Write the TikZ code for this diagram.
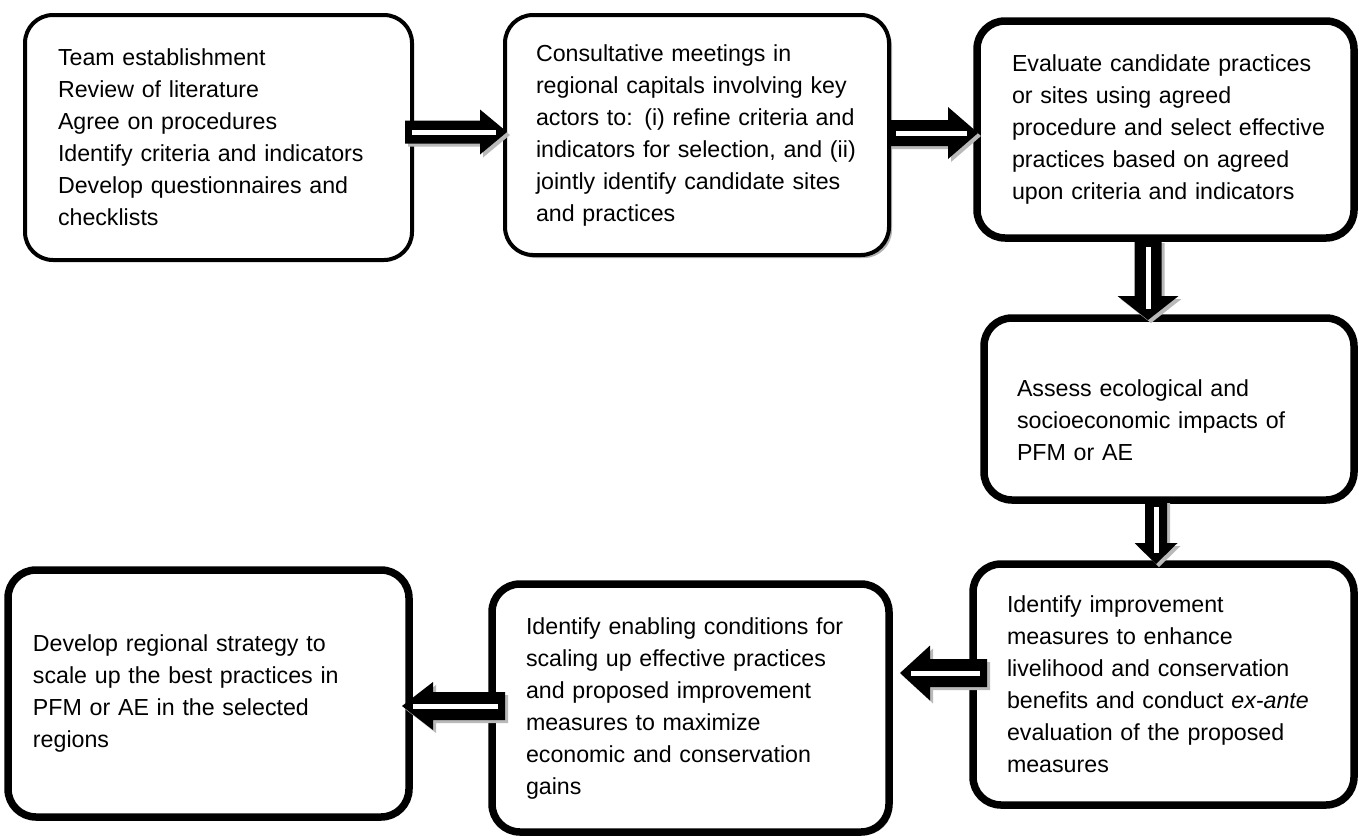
\documentclass[tikz,border=0pt]{standalone}
\usepackage{fontspec}
\setmainfont{Liberation Sans}
\usetikzlibrary{calc,shadows}

% block arrow: #1 tail, #2 tip, #3 shaft half width, #4 head half width, #5 head length
\newcommand{\blockarrow}[5]{%
  \coordinate (bA) at (#1);
  \coordinate (bB) at (#2);
  \coordinate (bH) at ($(bB)!#5!(bA)$);
  \coordinate (bL1) at ($(bA)!#3!90:(bB)$);
  \coordinate (bR1) at ($(bA)!#3!-90:(bB)$);
  \coordinate (bL2) at ($(bH)!#3!-90:(bA)$);
  \coordinate (bR2) at ($(bH)!#3!90:(bA)$);
  \coordinate (bL3) at ($(bH)!#4!-90:(bA)$);
  \coordinate (bR3) at ($(bH)!#4!90:(bA)$);
  \coordinate (bA2) at ($(bA)!7pt!(bB)$);
  \coordinate (bB2) at ($(bB)!11pt!(bA)$);
  \coordinate (bW1) at ($(bA2)!2.5pt!90:(bB2)$);
  \coordinate (bW2) at ($(bA2)!2.5pt!-90:(bB2)$);
  \coordinate (bW3) at ($(bB2)!2.5pt!90:(bA2)$);
  \coordinate (bW4) at ($(bB2)!2.5pt!-90:(bA2)$);
  \fill[arrshadow] (bL1) -- (bL2) -- (bL3) -- (bB) -- (bR3) -- (bR2) -- (bR1) -- cycle;
  \fill[arrbody] (bL1) -- (bL2) -- (bL3) -- (bB) -- (bR3) -- (bR2) -- (bR1) -- cycle;
  \fill[arrinner] (bW1) -- (bW4) -- (bW3) -- (bW2) -- cycle;
}

\tikzset{
  box/.style={draw=black, fill=white, rounded corners=28pt, outer sep=0pt,
    inner ysep=0pt, inner xsep=8pt, align=left,
    font=\fontsize{23.2pt}{32pt}\selectfont},
  thinbox/.style={box, line width=4pt},
  thickbox/.style={box, line width=7.5pt},
  shadowed/.style={drop shadow={shadow xshift=3pt, shadow yshift=-3pt, fill=gray!60, opacity=1}},
  arrshadow/.style={fill=gray!55, transform canvas={shift={(3pt,-3pt)}}},
  arrbody/.style={fill=black},
  arrinner/.style={fill=white},
}

\begin{document}
\begin{tikzpicture}[x=1pt, y=-1pt]
\useasboundingbox (0,0) rectangle (1359,839);
\fill[white] (0,0) rectangle (1359,839);

\node[thinbox, minimum width=387pt, minimum height=245pt, text width=371pt] (b1) at (218.5,137.5)
  {\setlength\leftskip{25pt}Team establishment\\Review of literature\\Agree on procedures\\Identify criteria and indicators\\Develop questionnaires and\\checklists\par};

\node[thinbox, shadowed, minimum width=384pt, minimum height=240pt, text width=368pt] (b2) at (697,135)
  {\setlength\leftskip{23pt}Consultative meetings in\\regional capitals involving key\\actors to: (i) refine criteria and\\indicators for selection, and (ii)\\jointly identify candidate sites\\and practices\par};

\node[thickbox, minimum width=377pt, minimum height=217pt, text width=361pt] (b3) at (1165.5,129.5)
  {\setlength\leftskip{27pt}Evaluate candidate practices\\or sites using agreed\\procedure and select effective\\practices based on agreed\\upon criteria and indicators\par};

\node[thickbox, minimum width=370pt, minimum height=182pt, text width=354pt] (b4) at (1169,409)
  {\setlength\leftskip{25pt}\rule{0pt}{39pt}Assess ecological and\\socioeconomic impacts of\\PFM or AE\par};

\node[thickbox, minimum width=381pt, minimum height=241pt, text width=365pt] (b5) at (1163.5,684.5)
  {\setlength\leftskip{26pt}Identify improvement\\measures to enhance\\livelihood and conservation\\benefits and conduct \textit{ex-ante}\\evaluation of the proposed\\measures\par};

\node[thickbox, shadowed, minimum width=397pt, minimum height=248pt, text width=381pt] (b6) at (690.5,708)
  {\setlength\leftskip{26pt}Identify enabling conditions for\\scaling up effective practices\\and proposed improvement\\measures to maximize\\economic and conservation\\gains\par};

\node[thickbox, minimum width=401pt, minimum height=247pt, text width=385pt] (b7) at (208.5,693.5)
  {\setlength\leftskip{17pt}Develop regional strategy to\\scale up the best practices in\\PFM or AE in the selected\\regions\par};

% connectors
\blockarrow{$(b1.east)+(-7,-5.5)$}{$(b2.west|-bA)+(2,0)$}{11.5pt}{22.5pt}{27pt}
\blockarrow{$(b2.east)+(0,-2)$}{$(b3.west|-bA)+(1,0)$}{13pt}{26pt}{30pt}
\blockarrow{$(b3.south)+(-17.5,2)$}{$(b4.north-|bA)+(0,2)$}{13.5pt}{30.5pt}{24pt}
\blockarrow{$(b4.south)+(-13,0)$}{$(b5.north-|bA)$}{11pt}{21.5pt}{21pt}
\blockarrow{$(b5.west)+(14,-11.5)$}{$(b6.east|-bA)+(11,0)$}{14pt}{27.5pt}{30pt}
\blockarrow{$(b6.west)+(13,-2)$}{$(b7.east|-bA)+(-7,0)$}{14pt}{24pt}{31pt}
\end{tikzpicture}
\end{document}
